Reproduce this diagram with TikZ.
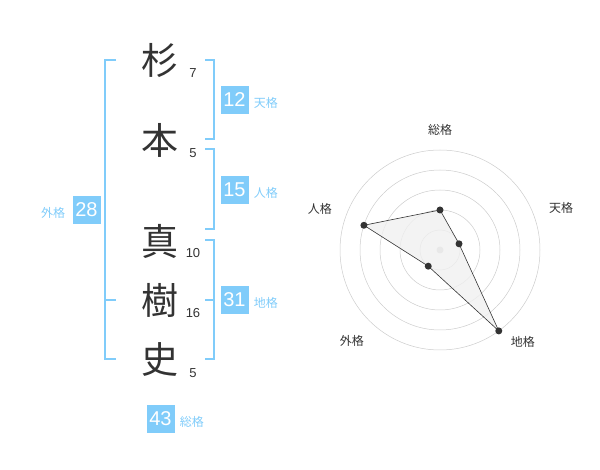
\documentclass[tikz,border=0pt]{standalone}
\usepackage{fontspec}
\setmainfont{Liberation Sans}
\newfontfamily\jpfont{Noto Sans CJK JP}
\usepackage{xcolor}
\usetikzlibrary{positioning}
\definecolor{skyblue}{RGB}{128,204,250}
\definecolor{inkgray}{RGB}{51,51,51}

\begin{document}
\begin{tikzpicture}[
  x=1pt, y=-1pt,
  kanji/.style={font=\jpfont\fontsize{37}{37}\selectfont, text=inkgray, inner sep=0pt},
  strokes/.style={font=\fontsize{13}{13}\selectfont, text=inkgray, inner sep=0pt},
  score/.style={fill=skyblue, text=white, font=\fontsize{20}{20}\selectfont, minimum size=28pt, inner sep=0pt},
  kaku/.style={font=\jpfont\fontsize{12}{12}\selectfont, text=skyblue, inner sep=0pt},
  bracket/.style={draw=skyblue, line width=1.6pt},
  ring/.style={draw=black!20, line width=0.5pt},
  axislabel/.style={font=\jpfont\fontsize{12}{12}\selectfont, text=inkgray, inner sep=0pt},
  dot/.style={circle, fill=inkgray, inner sep=0pt, minimum size=7pt}
]
  \useasboundingbox (0,0) rectangle (600,470);

  % Name characters
  \node[kanji] (sugi) at (160,60) {杉};
  \node[kanji] (hon) at (160,140) {本};
  \node[kanji] (ma) at (160,241) {真};
  \node[kanji] (ki) at (160,300) {樹};
  \node[kanji] (shi) at (160,360) {史};

  % Stroke counts
  \node[strokes] (n1) at (193,73) {7};
  \node[strokes] (n2) at (193,153) {5};
  \node[strokes] (n3) at (193,253) {10};
  \node[strokes] (n4) at (193,313) {16};
  \node[strokes] (n5) at (193,373) {5};

  % Brackets
  \draw[bracket] (116,60) -- (105,60) -- (105,359) -- (116,359);
  \draw[bracket] (105,300) -- (116,300);
  \draw[bracket] (205,60) -- (214,60) -- (214,139) -- (205,139);
  \draw[bracket] (205,149) -- (214,149) -- (214,229) -- (205,229);
  \draw[bracket] (205,240) -- (214,240) -- (214,359) -- (205,359);
  \draw[bracket] (205,300) -- (214,300);

  % Scores
  \node[score] (tenkaku) at (234.5,100) {12};
  \node[score] (jinkaku) at (234.5,190) {15};
  \node[score] (chikaku) at (234.5,300) {31};
  \node[score] (gaikaku) at (86.5,210) {28};
  \node[score] (soukaku) at (160.5,419) {43};

  \node[kaku, right=5pt of tenkaku, yshift=-3pt] {天格};
  \node[kaku, right=5pt of jinkaku, yshift=-3pt] {人格};
  \node[kaku, right=5pt of chikaku, yshift=-3pt] {地格};
  \node[kaku, left=7pt of gaikaku, yshift=-3pt] {外格};
  \node[kaku, right=5pt of soukaku, yshift=-3pt] {総格};

  % Radar chart
  \begin{scope}[shift={(440,250)}, y=1pt]
    \foreach \r in {20,40,60,80,100}
      \draw[ring] (0,0) circle[radius=\r];
    \fill[black!20] (0,0) circle[radius=3.5];

    \coordinate (so) at (90:40);
    \coordinate (ten) at (18:20);
    \coordinate (chi) at (-54:100);
    \coordinate (gai) at (-126:20);
    \coordinate (jin) at (162:80);

    \filldraw[fill=black!6, fill opacity=0.8, draw=inkgray, line width=0.6pt]
      (so) -- (ten) -- (chi) -- (gai) -- (jin) -- cycle;
    \foreach \p in {so,ten,chi,gai,jin}
      \node[dot] (d\p) at (\p) {};

    \node[axislabel] (lso) at (90:120) {総格};
    \node[axislabel] (lten) at (19:128) {天格};
    \node[axislabel] (lchi) at (-48:124) {地格};
    \node[axislabel] (lgai) at (-134:127) {外格};
    \node[axislabel] (ljin) at (161:127) {人格};
  \end{scope}
\end{tikzpicture}
\end{document}
